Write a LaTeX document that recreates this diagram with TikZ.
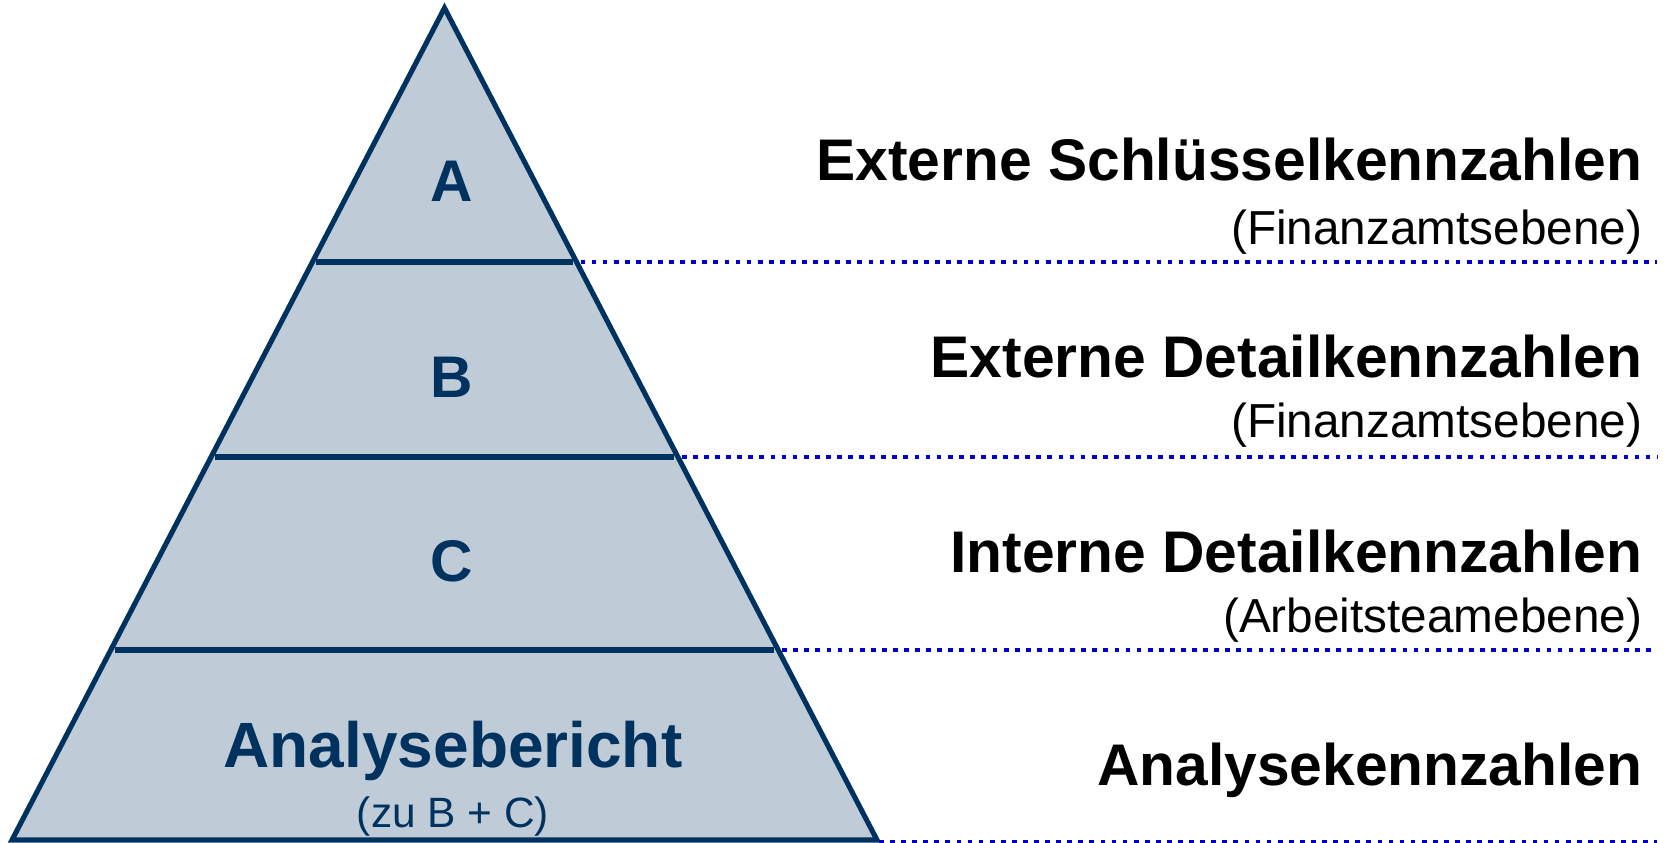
\documentclass[tikz,border=0pt]{standalone}
\usepackage{fontspec}
\setmainfont{Liberation Sans}
\usetikzlibrary{calc}
\definecolor{navy}{HTML}{00325F}
\definecolor{pyrfill}{HTML}{BFCCD8}
\definecolor{dotblue}{HTML}{0000CC}
\begin{document}
\begin{tikzpicture}[x=0.01cm,y=-0.01cm,
  pyr/.style={draw=navy,fill=pyrfill,line width=1.45pt,line join=miter},
  sepline/.style={draw=navy,line width=1.5pt},
  dotline/.style={draw=dotblue,line width=1.35pt,dash pattern=on 1.35pt off 1.8pt},
  lvl/.style={font=\fontsize{16.7}{20}\selectfont\bfseries,text=navy,anchor=base,inner sep=0pt},
  big/.style={font=\fontsize{18.2}{22}\selectfont\bfseries,text=navy,anchor=base,inner sep=0pt},
  small/.style={font=\fontsize{12.06}{14}\selectfont,text=navy,anchor=base,inner sep=0pt},
  head/.style={font=\fontsize{16.7}{20}\selectfont\bfseries,text=black,anchor=base east,inner sep=0pt},
  sub/.style={font=\fontsize{13.57}{16}\selectfont,text=black,anchor=base east,inner sep=0pt}]
\useasboundingbox (0,0) rectangle (1667,843);
\coordinate (apex) at (444.5,8);
\coordinate (bl) at (12,840);
\coordinate (br) at (877,840);
\path[pyr] (apex) -- (br) -- (bl) -- cycle;
% level points
\coordinate (aL) at ($(apex)!0.3053!(bl)$);
\coordinate (aR) at ($(apex)!0.3053!(br)$);
\coordinate (bL) at ($(apex)!0.5397!(bl)$);
\coordinate (bR) at ($(apex)!0.5397!(br)$);
\coordinate (cL) at ($(apex)!0.7716!(bl)$);
\coordinate (cR) at ($(apex)!0.7716!(br)$);
\coordinate (aE) at (aR -| 1657,0);
\coordinate (bE) at (bR -| 1657,0);
\coordinate (cE) at (cR -| 1657,0);
\coordinate (dS) at (879,842);
\coordinate (dE) at (1657,842);
\draw[sepline] ($(aL)+(4,0)$) -- ($(aR)+(-4,0)$);
\draw[sepline] ($(bL)+(4,0)$) -- ($(bR)+(-4,0)$);
\draw[sepline] ($(cL)+(4,0)$) -- ($(cR)+(-4,0)$);
\draw[dotline] ($(aR)+(4,0)$) -- (aE);
\draw[dotline] ($(bR)+(4,0)$) -- (bE);
\draw[dotline] ($(cR)+(4,0)$) -- (cE);
\draw[dotline] (dS) -- (dE);
% pyramid labels
\node[lvl] (labA) at (452,202) {A};
\node[lvl] (labB) at (452,398) {B};
\node[lvl] (labC) at (452,581) {C};
\node[big] (labD) at (453,767) {Analysebericht};
\node[small] (labDs) at (453,827) {(zu B + C)};
% right labels
\node[head] (h1) at (1643,181) {Externe Schlüsselkennzahlen};
\node[sub] (s1) at (1643,245) {(Finanzamtsebene)};
\node[head] (h2) at (1643,378) {Externe Detailkennzahlen};
\node[sub] (s2) at (1643,437) {(Finanzamtsebene)};
\node[head] (h3) at (1643,572) {Interne Detailkennzahlen};
\node[sub] (s3) at (1643,632) {(Arbeitsteamebene)};
\node[head] (h4) at (1643,785) {Analysekennzahlen};
\end{tikzpicture}
\end{document}
